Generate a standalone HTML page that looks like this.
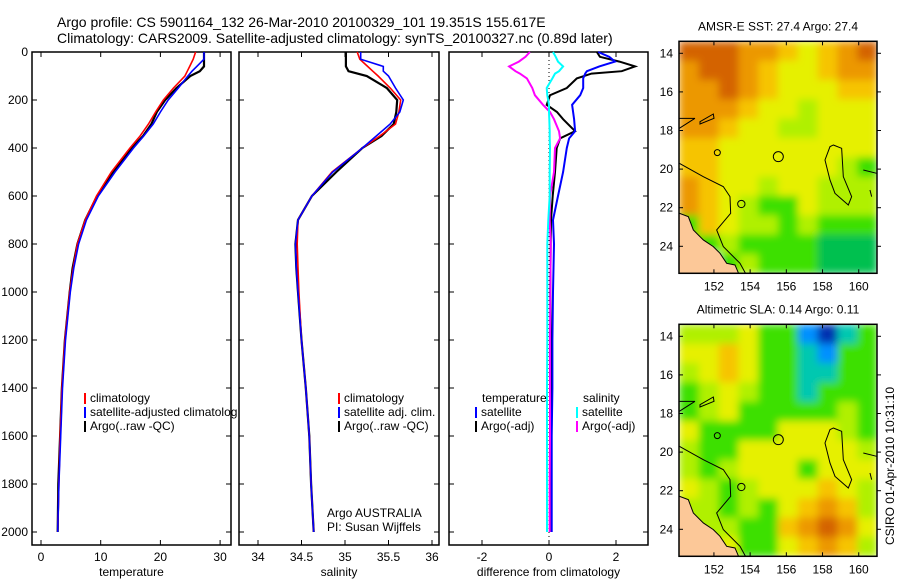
<!DOCTYPE html>
<html><head><meta charset="utf-8">
<style>
html,body{margin:0;padding:0;background:#fff;}
svg{display:block;font-family:"Liberation Sans",sans-serif;}
</style></head>
<body>
<svg id="fig" width="900" height="580" viewBox="0 0 900 580" xmlns="http://www.w3.org/2000/svg">
<defs>
<filter id="blur" x="0" y="0" width="1" height="1"><feGaussianBlur stdDeviation="4" edgeMode="duplicate"/></filter>
<clipPath id="mc1"><rect x="679" y="41.3" width="198" height="232"/></clipPath>
<clipPath id="mc2"><rect x="679" y="324.3" width="198" height="232"/></clipPath>
</defs>
<text x="57" y="27" font-size="14">Argo profile: CS 5901164_132 26-Mar-2010 20100329_101 19.351S 155.617E</text>
<text x="57" y="43" font-size="14">Climatology: CARS2009. Satellite-adjusted climatology: synTS_20100327.nc (0.89d later)</text>
<g id="panels"></g>
<g id="maps"></g>
</svg>
<script>
// ---------- data ----------
const depthT = [0,30,60,80,100,150,200,250,300,350,400,500,600,700,800,900,1000,1200,1400,1600,1800,2000];
const tempClim = [25.9,25.5,24.9,24.5,24.1,22.2,20.5,19.2,18.0,16.6,14.9,11.8,9.3,7.4,6.1,5.4,4.8,4.0,3.5,3.2,3.0,2.8];
const tempSat  = [27.3,27.3,26.1,25.3,24.6,23.0,21.3,20.0,18.8,17.2,15.5,12.4,9.6,7.6,6.3,5.5,4.9,4.1,3.6,3.3,3.0,2.8];
const tempArgo = [27.3,27.3,27.3,26.6,25.0,22.7,20.8,19.4,18.5,17.1,15.2,12.1,9.4,7.4,6.1,5.3,4.8,4.0,3.5,3.2,2.9,2.8];
const salClim = [35.14,35.17,35.26,35.32,35.38,35.52,35.64,35.62,35.58,35.40,35.20,34.85,34.62,34.46,34.45,34.46,34.47,34.50,34.55,34.59,34.61,34.64];
const salSat  = [35.18,35.18,35.44,35.44,35.50,35.58,35.67,35.63,35.52,35.36,35.20,34.86,34.62,34.46,34.43,34.44,34.46,34.50,34.55,34.59,34.61,34.64];
const salArgo = [35.01,35.01,35.01,35.04,35.25,35.48,35.60,35.59,35.56,35.42,35.20,34.90,34.62,34.46,34.43,34.44,34.46,34.50,34.55,34.59,34.61,34.64];
const depthD = [0,20,40,60,80,90,110,150,180,220,250,280,330,360,400,500,600,700,800,1000,1200,1400,1600,1800,2000];
const dTempSat  = [1.47,1.8,1.97,1.5,1.13,1.08,1.02,1.02,0.93,0.69,0.72,0.75,0.78,0.6,0.53,0.42,0.27,0.12,0.15,0.12,0.1,0.1,0.08,0.08,0.08];
const dTempArgo = [1.43,1.52,2.1,2.57,2.17,1.27,0.83,0.53,0.03,-0.07,0.24,0.42,0.78,0.33,0.23,0.18,0.11,0.06,0.05,0.04,0.05,0.06,0.05,0.05,0.05];
const dSalSat   = [0.12,0.2,0.27,0.42,0.3,0.18,0.1,-0.07,-0.05,0,0,0.01,0.02,0.02,0.03,0.02,0.02,-0.02,-0.05,-0.05,-0.05,-0.06,-0.06,-0.06,-0.06];
const dSalArgo  = [-0.57,-0.7,-0.9,-1.19,-1.0,-0.87,-0.66,-0.5,-0.42,-0.18,0.03,0.15,0.3,0.33,0.18,0.15,0.03,0.02,0.05,0.04,0.03,0.03,0.03,0.02,0.02];
const depthTicks = [0,200,400,600,800,1000,1200,1400,1600,1800,2000];
const tempTicks = [0,10,20,30];
const salTicks = [34,34.5,35,35.5,36];
const diffTicks = [-2,0,2];

// ---------- helpers ----------
const NS="http://www.w3.org/2000/svg";
function mk(tag,attrs,parent){const e=document.createElementNS(NS,tag);for(const k in attrs)e.setAttribute(k,attrs[k]);parent.appendChild(e);return e;}
const yTop=52,yBot=545;
const yD=d=>52+0.24*d;
const panels=document.getElementById('panels');
const P=[
 {name:'temperature',x0:32,x1:231,f:v=>41+5.97*v,ticks:tempTicks,label:'temperature'},
 {name:'salinity',x0:239,x1:439,f:v=>258+87*(v-34),ticks:salTicks,label:'salinity'},
 {name:'difference',x0:449,x1:648,f:v=>549+33.5*v,ticks:diffTicks,label:'difference from climatology'}
];
P.forEach((p,i)=>{
  const g=mk('g',{},panels);
  
  
  const box=mk('rect',{x:p.x0,y:yTop,width:p.x1-p.x0,height:yBot-yTop,fill:'none',stroke:'#000','stroke-width':1.5},g);
  
  
  p.ticks.forEach(t=>{
    const x=p.f(t);
    mk('line',{x1:x,x2:x,y1:yBot,y2:yBot-5,stroke:'#000'},g);
    mk('line',{x1:x,x2:x,y1:yTop,y2:yTop+5,stroke:'#000'},g);
    const tl=mk('text',{x:x,y:561,'font-size':12,'text-anchor':'middle'},g);
    tl.textContent=String(t);
    
    
  });
  depthTicks.forEach(d=>{
    const y=yD(d);
    mk('line',{x1:p.x0,x2:p.x0+5,y1:y,y2:y,stroke:'#000'},g);
    mk('line',{x1:p.x1,x2:p.x1-5,y1:y,y2:y,stroke:'#000'},g);
    if(i===0){
      const tl=mk('text',{x:28,y:y+4,'font-size':12,'text-anchor':'end'},g);
      tl.textContent=String(d);
      
      
    }
  });
  const xl=mk('text',{x:(p.x0+p.x1)/2,y:576,'font-size':12,'text-anchor':'middle'},g);
  xl.textContent=p.label;
  
  
  p.g=g;
});
function line(p,depths,vals,color,w,name){
  const pts=depths.map((d,k)=>p.f(vals[k]).toFixed(1)+','+yD(d).toFixed(1)).join(' ');
  const l=mk('polyline',{points:pts,fill:'none',stroke:color,'stroke-width':w},p.g);
  
  
}
mk('line',{x1:549,x2:549,y1:yTop,y2:yBot,stroke:'#000','stroke-dasharray':'1,3'},P[2].g);
line(P[0],depthT,tempArgo,'#000',2.2,'temp-argo-line');
line(P[0],depthT,tempClim,'#f00',1.6,'temp-climatology-line');
line(P[0],depthT,tempSat,'#00f',1.6,'temp-satellite-line');
line(P[1],depthT,salArgo,'#000',2.2,'sal-argo-line');
line(P[1],depthT,salClim,'#f00',1.6,'sal-climatology-line');
line(P[1],depthT,salSat,'#00f',1.6,'sal-satellite-line');
line(P[2],depthD,dTempArgo,'#000',2,'diff-temp-argo-line');
line(P[2],depthD,dTempSat,'#00f',2,'diff-temp-satellite-line');
line(P[2],depthD,dSalArgo,'#f0f',2,'diff-sal-argo-line');
line(P[2],depthD,dSalSat,'#0ff',2,'diff-sal-satellite-line');

function legend(parent,x,y,color,text,name){
  const g=mk('g',{},parent);
  
  
  mk('rect',{x:x,y:y-9,width:2,height:11,fill:color},g);
  const t=mk('text',{x:x+6,y:y,'font-size':12},g);
  t.textContent=text;
}
legend(P[0].g,84,402,'#f00','climatology','legend-climatology');
const clip=mk('clipPath',{id:'c1'},panels);mk('rect',{x:80,y:380,width:157,height:60},clip);
const lg=mk('g',{'clip-path':'url(#c1)'},P[0].g);
legend(lg,84,416,'#00f','satellite-adjusted climatology','legend-satellite');
legend(P[0].g,84,430,'#000','Argo(..raw -QC)','legend-argo');
legend(P[1].g,338,402,'#f00','climatology','legend-climatology');
legend(P[1].g,338,416,'#00f','satellite adj. clim.','legend-satellite');
legend(P[1].g,338,430,'#000','Argo(..raw -QC)','legend-argo');
let t=mk('text',{x:327,y:517,'font-size':12},P[1].g);t.textContent='Argo AUSTRALIA';

t=mk('text',{x:327,y:531,'font-size':12},P[1].g);t.textContent='PI: Susan Wijffels';

t=mk('text',{x:482,y:402,'font-size':12},P[2].g);t.textContent='temperature';

t=mk('text',{x:583,y:402,'font-size':12},P[2].g);t.textContent='salinity';

legend(P[2].g,475,416,'#00f','satellite','legend-temp-satellite');
legend(P[2].g,475,430,'#000','Argo(-adj)','legend-temp-argo');
legend(P[2].g,576,416,'#0ff','satellite','legend-sal-satellite');
legend(P[2].g,576,430,'#f0f','Argo(-adj)','legend-sal-argo');

// ---------- maps ----------
const pal={O:'#d46400',o:'#ec9800',y:'#f6c400',Y:'#e6f000',l:'#b0f000',g:'#3ce000',G:'#00c050',B:'#0090ff',D:'#0030b0',c:'#00c8b0',L:'#fcc898',W:'#ffffff'};
const sstGrid=[
'OOOooyYyoO',
'oOOoyYYyoo',
'ooOoyYYYyy',
'oooyYYlYYY',
'ooyYYllYYY',
'yyYYYYYYYY',
'yyYYYYYYlg',
'oyYYlYYlll',
'oyYlggYlll',
'gyYllglggg',
'LglggggGGG',
'LWglgggGGG'];
const slaGrid=[
'lllYggBDcg',
'YYyYggcBgg',
'lYyYggccgg',
'glYlggcggg',
'glYggggglg',
'YggggYYYlg',
'lggYYYYYYl',
'lglYYYgYYY',
'YlglYYYyYl',
'LlglgYyoyl',
'LLlggyoOoY',
'LLYggYyoyl'];
const maps=document.getElementById('maps');
function drawMap(top,grid,title,name,clipId){
  const g=mk('g',{},maps);
  
  
  const x0=679,x1=877,y0=top,y1=top+232;
  const cw=(x1-x0)/10,ch=(y1-y0)/12;
  const cl=mk('g',{'clip-path':`url(#${clipId})`},g);
  const gg=mk('g',{filter:'url(#blur)'},cl);
  grid.forEach((row,r)=>{[...row].forEach((k,c)=>{
    if(k==='L')k='l';
    mk('rect',{x:x0+c*cw,y:y0+r*ch,width:cw+0.5,height:ch+0.5,fill:pal[k]},gg);
  });});
  const off=top-41.3;
  const cg=mk('g',{transform:`translate(660,${off}) scale(0.3333)`},cl);
  mk('path',{d:'M40,640 L58,640 L85,650 L100,690 L130,720 L160,740 L180,760 L200,790 L225,795 L240,830 L40,830 Z',fill:'#fcc898',stroke:'#000','stroke-width':3},cg);
  const cs={fill:'none',stroke:'#000','stroke-width':3};
  mk('path',Object.assign({d:'M58,490 L130,530 L190,560 L210,590 L212,640 L170,690 L190,740 L240,790 L262,830'},cs),cg);
  mk('path',Object.assign({d:'M58,355 L105,355 M58,385 L105,355'},cs),cg);
  mk('path',Object.assign({d:'M120,365 L160,342 L162,355 L120,372 Z'},cs),cg);
  mk('circle',Object.assign({cx:355,cy:470,r:15},cs),cg);
  mk('circle',Object.assign({cx:172,cy:458,r:9},cs),cg);
  mk('circle',Object.assign({cx:244,cy:612,r:11},cs),cg);
  mk('path',Object.assign({d:'M520,435 L545,445 L550,530 L575,590 L565,615 L525,580 L510,540 L495,480 L510,440 Z'},cs),cg);
  mk('path',Object.assign({d:'M610,510 L650,520 M630,570 L635,590'},cs),cg);
  mk('rect',{x:x0,y:y0,width:x1-x0,height:y1-y0,fill:'none',stroke:'#000','stroke-width':1.5},g);
  const lonX=lo=>679+(lo-150.07)*18.1;
  [152,154,156,158,160].forEach(lo=>{
    const x=lonX(lo);
    mk('line',{x1:x,x2:x,y1:y1,y2:y1-4,stroke:'#000'},g);
    mk('line',{x1:x,x2:x,y1:y0,y2:y0+4,stroke:'#000'},g);
    const tl=mk('text',{x:x,y:y1+17,'font-size':12,'text-anchor':'middle'},g);
    tl.textContent=String(lo);
  });
  const latY=la=>top+12+(la-14)*19.3;
  [14,16,18,20,22,24].forEach(la=>{
    const y=latY(la);
    mk('line',{x1:x1,x2:x1+4,y1:y,y2:y,stroke:'#000'},g);
    mk('line',{x1:x0,x2:x0+4,y1:y,y2:y,stroke:'#000'},g);
    const tl=mk('text',{x:673,y:y+4,'font-size':12,'text-anchor':'end'},g);
    tl.textContent=String(la);
  });
  const tt=mk('text',{x:778,y:top-11,'font-size':12,'text-anchor':'middle'},g);
  tt.textContent=title;
  
  
}
drawMap(41.3,sstGrid,'AMSR-E SST: 27.4 Argo: 27.4','sst-map','mc1');
drawMap(324.3,slaGrid,'Altimetric SLA: 0.14 Argo: 0.11','sla-map','mc2');
t=mk('text',{x:0,y:0,'font-size':12,'text-anchor':'middle',transform:'translate(894,466) rotate(-90)'},maps);
t.textContent='CSIRO 01-Apr-2010 10:31:10';

</script>
</body></html>
